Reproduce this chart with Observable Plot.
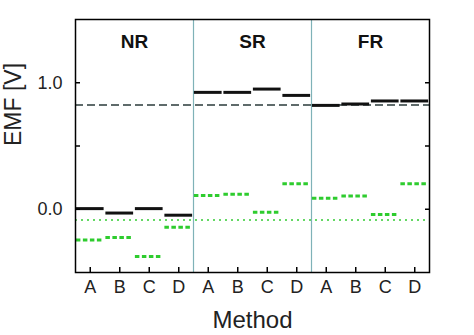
<!DOCTYPE html>
<html><head><meta charset="utf-8">
<script src="https://cdn.jsdelivr.net/npm/d3@7"></script>
<script src="https://cdn.jsdelivr.net/npm/@observablehq/plot@0.6"></script>
<style>body{margin:0;background:#fff}</style>
</head><body><div id="chart"></div>
<script>
const groups = ["NR", "SR", "FR"];
const methods = ["A", "B", "C", "D"];
const emfBlack = [
  [0.005, -0.03, 0.005, -0.047],
  [0.924, 0.924, 0.95, 0.90],
  [0.821, 0.832, 0.856, 0.856]
];
const emfGreen = [
  [-0.244, -0.223, -0.373, -0.142],
  [0.108, 0.118, -0.024, 0.202],
  [0.087, 0.105, -0.042, 0.202]
];
const refBlack = 0.824;
const refGreen = -0.084;
const yLabelTicks = [0, 1];
const yMinorTicks = [0, 0.5, 1];

const rows = [];
groups.forEach((g, gi) => methods.forEach((m, mi) => {
  const idx = gi * methods.length + mi;
  rows.push({idx, group: g, method: m, black: emfBlack[gi][mi], green: emfGreen[gi][mi]});
}));
const idxs = rows.map(d => d.idx);
const dividers = groups.slice(1).map((g, i) => (i + 1) * methods.length - 0.5);
const half = 0.5;

const font = "Liberation Sans, Arial, sans-serif";
const chart = Plot.plot({
  width: 474, height: 335,
  marginLeft: 75, marginRight: 45, marginTop: 19, marginBottom: 63,
  style: {fontFamily: font, fontSize: "18px", background: "#fff"},
  x: {domain: [-half, idxs.length - half]},
  y: {domain: [-0.5, 1.5]},
  marks: [
    Plot.ruleX(dividers, {stroke: "#7fb2b8", strokeWidth: 1.2}),
    Plot.ruleY([refBlack], {stroke: "#2b3b3b", strokeWidth: 1.5, strokeDasharray: "8,4"}),
    Plot.ruleY([refGreen], {stroke: "#33cc33", strokeWidth: 1.5, strokeDasharray: "2,4"}),
    Plot.ruleY(rows, {y: "black", x1: d => d.idx - half + 0.03, x2: d => d.idx + half - 0.03, stroke: "#111", strokeWidth: 3}),
    Plot.ruleY(rows, {y: "green", x1: d => d.idx - half + 0.03, x2: d => d.idx + half - 0.03, stroke: "#2ecc2e", strokeWidth: 3, strokeDasharray: "4.5,2.5"}),
    Plot.frame({stroke: "#000", strokeWidth: 1.5}),
    Plot.axisY(yLabelTicks, {anchor: "left", tickSize: 0, tickPadding: 13, tickFormat: d3.format(".1f"), label: null, fill: "#222", fontSize: 18}),
    Plot.axisY(yMinorTicks, {anchor: "left", tickSize: -5, tickFormat: () => "", label: null, strokeWidth: 1.5}),
    Plot.axisY(yMinorTicks, {anchor: "right", tickSize: -5, tickFormat: () => "", label: null, strokeWidth: 1.5}),
    Plot.axisX(idxs, {anchor: "bottom", tickSize: -5, tickPadding: 13, tickFormat: i => methods[i % methods.length], label: null, strokeWidth: 1.5, fill: "#222", fontSize: 18}),
    Plot.text(groups, {x: (d, i) => i * methods.length + (methods.length - 1) / 2, frameAnchor: "top", lineAnchor: "middle", dy: 22, text: d => d, fontSize: 19, fontWeight: "bold", fill: "#111"}),
    Plot.text(["EMF [V]"], {frameAnchor: "left", dx: -62, rotate: -90, text: d => d, fontSize: 23, fill: "#222"}),
    Plot.text(["Method"], {frameAnchor: "bottom", lineAnchor: "middle", dy: 48, text: d => d, fontSize: 24, fill: "#222"})
  ]
});
document.getElementById("chart").append(chart);
</script></body></html>
